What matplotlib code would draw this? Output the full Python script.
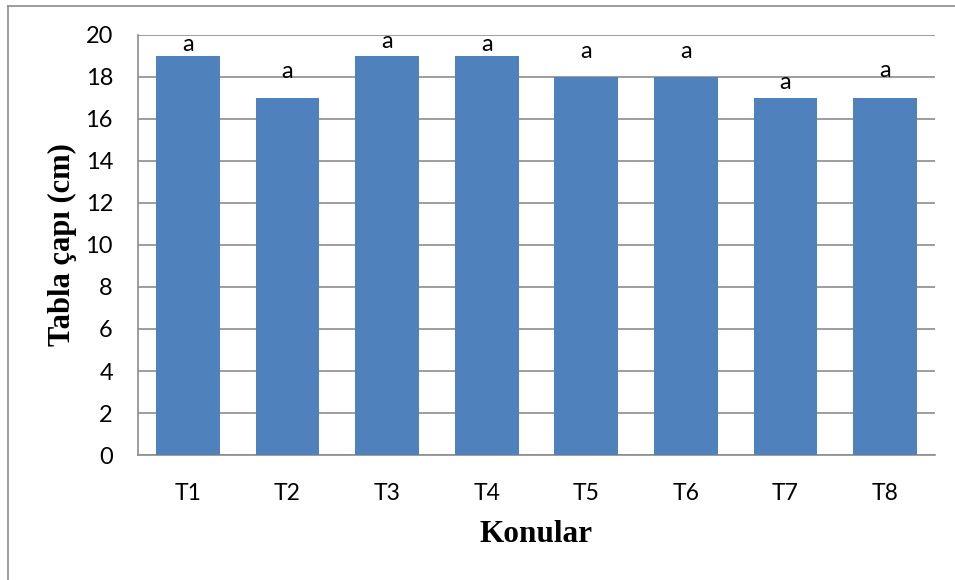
import matplotlib
matplotlib.use("Agg")
import matplotlib.pyplot as plt
from matplotlib.lines import Line2D

categories = ["T1", "T2", "T3", "T4", "T5", "T6", "T7", "T8"]
values = [19, 17, 19, 19, 18, 18, 17, 17]
letters = ["a", "a", "a", "a", "a", "a", "a", "a"]
# vertical gap between each bar top and its letter (data units)
letter_offsets = [0.57, 1.24, 0.67, 0.57, 1.19, 1.19, 0.76, 1.33]
yticks = [0, 2, 4, 6, 8, 10, 12, 14, 16, 18, 20]

fig = plt.figure(figsize=(9.55, 5.8), dpi=100)
ax = fig.add_axes([0.1445, 0.2155, 0.8345, 0.7242])

x = range(len(categories))
ax.bar(x, values, width=0.64, color="#4F81BD", zorder=3)

for xi, v, lab, off in zip(x, values, letters, letter_offsets):
    ax.text(xi, v + off, lab, ha="center", va="center",
            fontsize=17, family="Lato", color="black", zorder=4)

ax.set_xlim(-0.5, len(categories) - 0.5)
ax.set_ylim(0, 20)
ax.set_yticks(yticks)
ax.set_xticks(list(x))
ax.set_xticklabels(categories, family="Lato", fontsize=16.5)
ax.set_yticklabels([str(t) for t in yticks], family="Lato", fontsize=17)
ax.tick_params(axis="x", length=0, pad=20)
ax.tick_params(axis="y", length=0, pad=18)

ax.grid(axis="y", color="#8C8C8C", linewidth=1.2, zorder=0)
for side in ("top", "right"):
    ax.spines[side].set_visible(False)
for side in ("left", "bottom"):
    ax.spines[side].set_color("#8C8C8C")
    ax.spines[side].set_linewidth(1.2)

ax.set_xlabel("Konular", family="Liberation Serif", fontweight="bold",
              fontsize=22.5, labelpad=12)
ax.set_ylabel("Tabla çapı (cm)", family="Liberation Serif", fontweight="bold",
              fontsize=22, labelpad=6)

# outer chart frame
fig.add_artist(Line2D([8 / 955, 8 / 955], [0, 1 - 6 / 580],
                      transform=fig.transFigure, color="#8C8C8C", linewidth=1.2))
fig.add_artist(Line2D([8 / 955, 1], [1 - 6 / 580, 1 - 6 / 580],
                      transform=fig.transFigure, color="#8C8C8C", linewidth=1.2))

fig.savefig("out.png", dpi=100)
